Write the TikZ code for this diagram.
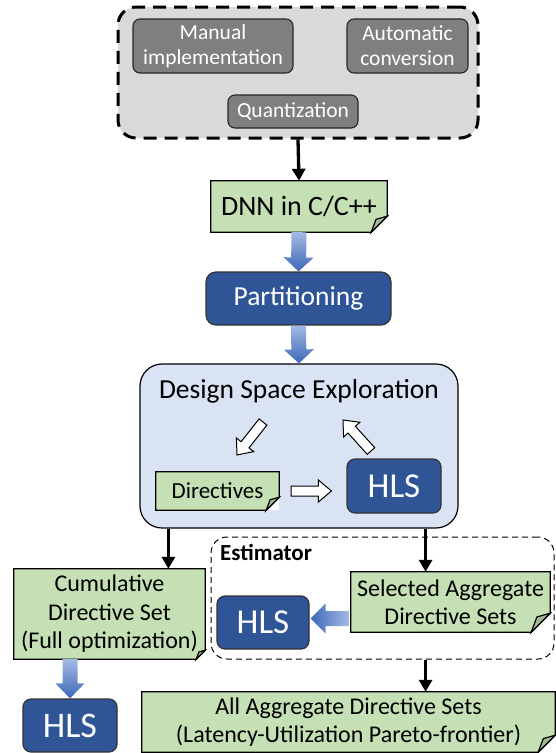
\documentclass[tikz,border=0pt]{standalone}
\usepackage{fontspec}
\setmainfont{Carlito}
\usetikzlibrary{calc,arrows.meta}

\definecolor{notegreen}{HTML}{C5E0B4}
\definecolor{folddark}{HTML}{A5B795}
\definecolor{hlsblue}{HTML}{2F5597}
\definecolor{dseblue}{HTML}{DAE3F3}
\definecolor{srcgray}{HTML}{D9D9D9}
\definecolor{stepgray}{HTML}{7F7F7F}
\definecolor{arrowblue}{HTML}{3D68B8}
\definecolor{arrowlight}{HTML}{A3BAE4}

% #1 style, #2 from, #3 to, #4 half shaft, #5 half head, #6 head length
\newcommand{\blockarrow}[6]{%
\path[#1] let \p1=(#2), \p2=(#3), \n1={veclen(\x2-\x1,\y2-\y1)},
  \n2={(\x2-\x1)/\n1}, \n3={(\y2-\y1)/\n1} in
  ({\x1-#4*\n3},{\y1+#4*\n2}) -- ({\x2-#6*\n2-#4*\n3},{\y2-#6*\n3+#4*\n2})
  -- ({\x2-#6*\n2-#5*\n3},{\y2-#6*\n3+#5*\n2}) -- (\x2,\y2)
  -- ({\x2-#6*\n2+#5*\n3},{\y2-#6*\n3-#5*\n2}) -- ({\x2-#6*\n2+#4*\n3},{\y2-#6*\n3-#4*\n2})
  -- ({\x1+#4*\n3},{\y1-#4*\n2}) -- cycle;}

% #1 node, #2 fold size
\newcommand{\dogear}[2]{%
\fill[white] ($(#1.south east)+(-#2,0)$) -- (#1.south east) -- ($(#1.south east)+(0,#2)$) -- cycle;
\draw[noteline] (#1.north west) -- (#1.north east) -- ($(#1.south east)+(0,#2)$)
  -- ($(#1.south east)+(-#2,0)$) -- (#1.south west) -- cycle;
\filldraw[noteline, fill=folddark] ($(#1.south east)+(0,#2)$) -- ($(#1.south east)+(-#2,0)$)
  -- ($(#1.south east)+(-0.7*#2,0.8*#2)$) -- cycle;}

\begin{document}
\begin{tikzpicture}[x=1pt,y=1pt,inner sep=0pt,
  darkbox/.style={draw=black!80, line width=1.2pt, fill=hlsblue, rounded corners=8pt, text=white, align=center},
  graybox/.style={draw=black!85, line width=1.1pt, fill=stepgray, rounded corners=7pt, text=white, align=center, font=\fontsize{21.5}{25}\selectfont},
  note/.style={fill=notegreen, align=center},
  noteline/.style={draw=black, line width=1.2pt},
  flow/.style={line width=3.3pt, -{Triangle[length=12pt,width=13pt]}},
  hollow/.style={draw=black, line width=1pt, fill=white}]

\useasboundingbox (0,0) rectangle (556,-753);

% inputs
\node[draw, line width=3pt, dash pattern=on 13pt off 8pt, fill=srcgray, rounded corners=18pt,
  minimum width=360pt, minimum height=131pt] (src) at (298,-72.5) {};
\node[graybox, minimum width=160pt, minimum height=54pt] (man) at (213,-46) {Manual\\implementation};
\node[graybox, minimum width=121pt, minimum height=54pt] (auto) at (407.5,-46) {Automatic\\conversion};
\node[graybox, minimum width=130pt, minimum height=33pt] (quant) at (293,-111.5) {Quantization};

% flow
\node[note, minimum width=176pt, minimum height=51pt, font=\fontsize{28}{32}\selectfont] (dnn) at (299,-206.5) {DNN in C/C++};
\dogear{dnn}{16}
\node[darkbox, rounded corners=10pt, minimum width=185pt, minimum height=53pt, font=\fontsize{27.5}{32}\selectfont] (part) at (298.5,-298.5) {Partitioning};

\node[draw, line width=1.2pt, fill=dseblue, rounded corners=22pt, minimum width=318pt, minimum height=164pt] (dse) at (299,-446) {};
\node[font=\fontsize{27.5}{32}\selectfont] (dsetitle) at (299,-391) {Design Space Exploration};
\node[note, minimum width=123pt, minimum height=38pt, font=\fontsize{23}{26}\selectfont] (dir) at (217.5,-491) {Directives};
\dogear{dir}{13}
\node[darkbox, minimum width=94pt, minimum height=54pt, font=\fontsize{35}{40}\selectfont] (hlsA) at (394,-486) {HLS};

\draw[flow] (src.south) -- (dnn.north);
\blockarrow{top color=arrowlight, bottom color=arrowblue}{dnn.south}{part.north}{7.5}{15}{14}
\blockarrow{top color=arrowlight, bottom color=arrowblue}{part.south}{dse.north}{7.5}{15}{14}

% loop
\coordinate (loopA) at (263,-422);
\coordinate (loopB) at (237,-455);
\coordinate (loopC) at (371,-451);
\coordinate (loopD) at (343,-420);
\blockarrow{hollow}{loopA}{loopB}{5}{11}{13}
\blockarrow{hollow}{$(dir.east)+(12,0)$}{$(hlsA.west |- dir.east)+(-15,0)$}{5}{11}{13}
\blockarrow{hollow}{loopC}{loopD}{5}{11}{13}

% results
\node[note, minimum width=191pt, minimum height=90pt, font=\fontsize{24}{28.5}\selectfont] (cum) at (109.5,-614) {Cumulative\\Directive Set\\(Full optimization)};
\dogear{cum}{9}
\node[darkbox, minimum width=94pt, minimum height=53pt, font=\fontsize{36}{40}\selectfont] (hlsC) at (70,-725.5) {HLS};

\node[draw, line width=1pt, dash pattern=on 6pt off 4pt, rounded corners=16pt, minimum width=343pt, minimum height=122pt] (est) at (382.5,-598) {};
\node[anchor=west, font=\fontsize{23}{26}\selectfont\bfseries] (estlabel) at (220,-552) {Estimator};
\node[note, minimum width=199pt, minimum height=60pt, font=\fontsize{24}{28}\selectfont] (sel) at (450.5,-602) {Selected Aggregate\\Directive Sets};
\dogear{sel}{19}
\node[darkbox, minimum width=92pt, minimum height=53pt, font=\fontsize{35}{40}\selectfont] (hlsE) at (263,-622.5) {HLS};

\node[note, minimum width=413pt, minimum height=60pt, font=\fontsize{24}{28}\selectfont] (all) at (348.5,-722) {All Aggregate Directive Sets\\(Latency-Utilization Pareto-frontier)};
\dogear{all}{17}

\coordinate (dseL) at ($(dse.south west)+(29,0)$);
\coordinate (dseR) at ($(dse.south east)+(-33,0)$);
\draw[flow] (dseL) -- (dseL |- cum.north);
\draw[flow] (dseR) -- (dseR |- sel.north);
\draw[flow] (dseR |- est.south) -- (dseR |- all.north);
\blockarrow{top color=arrowlight, bottom color=arrowblue}{hlsC.north |- cum.south}{hlsC.north}{7.5}{14.5}{15}
\blockarrow{left color=arrowblue, right color=arrowlight}{$(sel.west |- hlsE.east)+(-2,4)$}{$(hlsE.east)+(1,4)$}{7.5}{15}{15}

\end{tikzpicture}
\end{document}
